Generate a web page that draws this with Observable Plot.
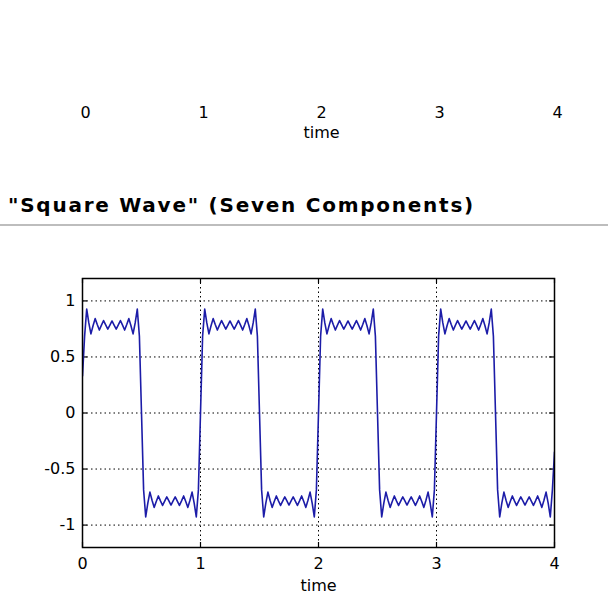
<!DOCTYPE html>
<html>
<head>
<meta charset="utf-8">
<script src="https://cdn.jsdelivr.net/npm/d3@7"></script>
<script src="https://cdn.jsdelivr.net/npm/@observablehq/plot@0.6"></script>
<style>
  body { margin: 0; background: #fff; }
  #page { position: relative; width: 612px; height: 600px; overflow: hidden; background: #fff; }
  #top { position: absolute; left: 0; top: 0; }
  #title { position: absolute; left: 8px; top: 195px; font: bold 20px/20px "DejaVu Sans", sans-serif; letter-spacing: 1.75px; white-space: nowrap; color: #000; }
  #rule { position: absolute; left: 0; top: 224px; width: 608px; height: 0; border-top: 2px solid #bdbdbd; }
  #chart { position: absolute; left: 0; top: 240px; }
</style>
</head>
<body>
<div id="page">
  <div id="top"></div>
  <div id="title">"Square Wave" (Seven Components)</div>
  <div id="rule"></div>
  <div id="chart"></div>
</div>
<script>
const xTicks = [0, 1, 2, 3, 4]
const xTickLabels = ["0", "1", "2", "3", "4"]
const yTicks = [-1, -0.5, 0, 0.5, 1]
const yTickLabels = ["-1", "-0.5", "0", "0.5", "1"]
const xLabel = "time"
const periods = [0, 1, 2, 3]
// one period of the wave, read at steps of 1/56 of a period
const waveSamples = [
  0, 0.686, 0.927, 0.804, 0.706, 0.778, 0.842, 0.789, 0.740, 0.784, 0.825, 0.786, 0.749, 0.785,
  0.821, 0.785, 0.749, 0.786, 0.825, 0.784, 0.740, 0.789, 0.842, 0.778, 0.706, 0.804, 0.927, 0.686,
  0, -0.686, -0.927, -0.804, -0.706, -0.778, -0.842, -0.789, -0.740, -0.784, -0.825, -0.786, -0.749, -0.785,
  -0.821, -0.785, -0.749, -0.786, -0.825, -0.784, -0.740, -0.789, -0.842, -0.778, -0.706, -0.804, -0.927, -0.686
]
// values at the two ends of the trace
const firstValue = 0.33
const lastValue = -0.35

let rows = []
periods.forEach(p => waveSamples.forEach((y, j) => rows.push({t: p + j / waveSamples.length, y: y})))
rows[0].y = firstValue
rows.push({t: xTicks[xTicks.length - 1], y: lastValue})

const font = {fontFamily: "'DejaVu Sans', sans-serif", fontSize: "16px", background: "white", color: "black"}
const fmtX = d => xTickLabels[xTicks.indexOf(d)]
const fmtY = d => yTickLabels[yTicks.indexOf(d)]

// tick labels left over from the figure above
let topAxis = Plot.plot({
  width: 612,
  height: 150,
  marginTop: 10,
  marginBottom: 50,
  marginLeft: 85,
  marginRight: 55,
  style: font,
  x: {domain: [0, 4]},
  marks: [
    Plot.axisX(xTicks, {anchor: "bottom", tickSize: 0, tickPadding: 6, tickFormat: fmtX,
      label: xLabel, labelAnchor: "center", labelOffset: 37, labelArrow: "none"})
  ]
})
d3.select('#top').append(() => topAxis)

const W = 612, H = 360, mt = 38, mb = 53, ml = 82, mr = 58, tick = 5
const innerW = W - ml - mr, innerH = H - mt - mb

let chart = Plot.plot({
  width: W,
  height: H,
  marginTop: mt,
  marginBottom: mb,
  marginLeft: ml,
  marginRight: mr,
  style: font,
  x: {domain: [0, 4]},
  y: {domain: [-1.2, 1.2]},
  marks: [
    Plot.gridX(xTicks.slice(1, -1), {stroke: "black", strokeOpacity: 1, strokeDasharray: "1.5,3"}),
    Plot.gridY(yTicks, {stroke: "black", strokeOpacity: 1, strokeDasharray: "1.5,3"}),
    // inward ticks on all four sides
    Plot.tickX(xTicks, {x: d => d, stroke: "black", strokeWidth: 1.2, insetTop: innerH - tick}),
    Plot.tickX(xTicks, {x: d => d, stroke: "black", strokeWidth: 1.2, insetBottom: innerH - tick}),
    Plot.tickY(yTicks, {y: d => d, stroke: "black", strokeWidth: 1.2, insetRight: innerW - tick}),
    Plot.tickY(yTicks, {y: d => d, stroke: "black", strokeWidth: 1.2, insetLeft: innerW - tick}),
    Plot.line(rows, {x: "t", y: "y", stroke: "#1c1ca8", strokeWidth: 1.6, clip: true}),
    Plot.frame({stroke: "black", strokeWidth: 1.5}),
    Plot.axisX(xTicks, {anchor: "bottom", tickSize: 0, tickPadding: 10, tickFormat: fmtX,
      label: xLabel, labelAnchor: "center", labelOffset: 43, labelArrow: "none"}),
    Plot.axisY(yTicks, {anchor: "left", tickSize: 0, tickPadding: 7, tickFormat: fmtY, label: null})
  ]
})
d3.select('#chart').append(() => chart)
</script>
</body>
</html>
